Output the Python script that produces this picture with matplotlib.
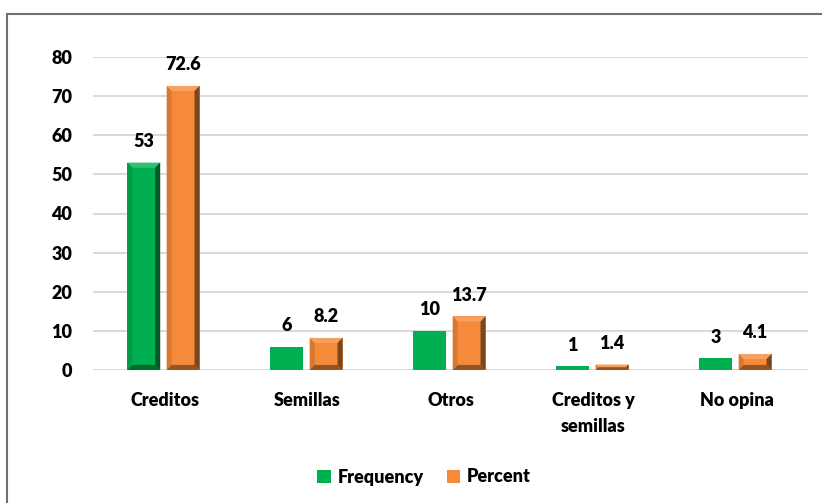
import numpy as np
import matplotlib
matplotlib.use("Agg")
import matplotlib.pyplot as plt
from matplotlib.patches import Rectangle, Polygon
from matplotlib.colors import to_rgb

plt.rcParams['font.family'] = ['Lato', 'DejaVu Sans']
plt.rcParams['font.weight'] = 'heavy'

# data
categories = ["Creditos", "Semillas", "Otros", "Creditos y\nsemillas", "No opina"]
frequency = [53, 6, 10, 1, 3]
percent = [72.6, 8.2, 13.7, 1.4, 4.1]
freq_labels = ["53", "6", "10", "1", "3"]
pct_labels = ["72.6", "8.2", "13.7", "1.4", "4.1"]

green = "#00B050"
orange = "#F58A3A"
fs = 13


def shade(c, f):
    r = np.array(to_rgb(c))
    if f >= 0:
        return tuple(r + (1 - r) * f)
    return tuple(r * (1 + f))


def bevel(ax, bar, color, bx, by):
    # fake the excel "circle" bevel with four shaded edges
    x, w, h = bar.get_x(), bar.get_width(), bar.get_height()
    b = min(by, h / 2)
    bxx = bx * b / by
    faces = [
        ([(x, h), (x + w, h), (x + w - bxx, h - b), (x + bxx, h - b)], shade(color, 0.2)),
        ([(x, 0), (x + w, 0), (x + w - bxx, b), (x + bxx, b)], shade(color, -0.4)),
        ([(x, 0), (x + bxx, b), (x + bxx, h - b), (x, h)], shade(color, -0.12)),
        ([(x + w, 0), (x + w - bxx, b), (x + w - bxx, h - b), (x + w, h)], shade(color, -0.5)),
    ]
    for pts, c in faces:
        ax.add_patch(Polygon(pts, closed=True, facecolor=c, edgecolor='none', zorder=3))


fig = plt.figure(figsize=(8.22, 5.03), dpi=100)
ax = fig.add_axes([93 / 822, 133 / 503, 715 / 822, 313 / 503])

x = np.arange(len(categories))
w = 0.23
b1 = ax.bar(x - 0.145, frequency, w, color=green, zorder=2, label="Frequency")
b2 = ax.bar(x + 0.13, percent, w, color=orange, zorder=2, label="Percent")

bx, by = 0.035, 1.3
bevel(ax, b1[0], green, bx, by)  # only the first green bar is beveled in the original
for bar in b2:
    bevel(ax, bar, orange, bx, by)

for bars, labs in ((b1, freq_labels), (b2, pct_labels)):
    for bar, lab in zip(bars, labs):
        ax.annotate(lab, (bar.get_x() + bar.get_width() / 2, bar.get_height()),
                    xytext=(0, 9), textcoords="offset points", ha="center", va="bottom",
                    fontsize=fs, fontweight="heavy", color="black")

ax.set_xlim(-0.5, 4.5)
ax.set_ylim(0, 80)
ax.set_yticks(np.arange(0, 81, 10))
ax.set_xticks(x)
ax.set_xticklabels(categories, linespacing=1.6)
ax.tick_params(axis="both", length=0, labelsize=fs)
ax.tick_params(axis="y", pad=15)
ax.tick_params(axis="x", pad=16)
ax.grid(axis="y", color="#D9D9D9", linewidth=1.4, zorder=0)
ax.set_axisbelow(True)
for s in ax.spines.values():
    s.set_visible(False)

leg = fig.legend(handles=[b1[0], b2[0]], labels=["Frequency", "Percent"], loc="center",
                 bbox_to_anchor=(424 / 822, 1 - 477 / 503), ncol=2, frameon=False,
                 fontsize=fs, handlelength=0.75, handleheight=0.75, columnspacing=1.3,
                 handletextpad=0.35)

# chart frame (right and bottom sides fall outside the image)
fig.add_artist(Rectangle((7 / 822, -0.05), 1.0, 1 - 14 / 503 + 0.05, transform=fig.transFigure,
                         fill=False, edgecolor="#707070", linewidth=1.5))

fig.savefig("out.png", dpi=100)
